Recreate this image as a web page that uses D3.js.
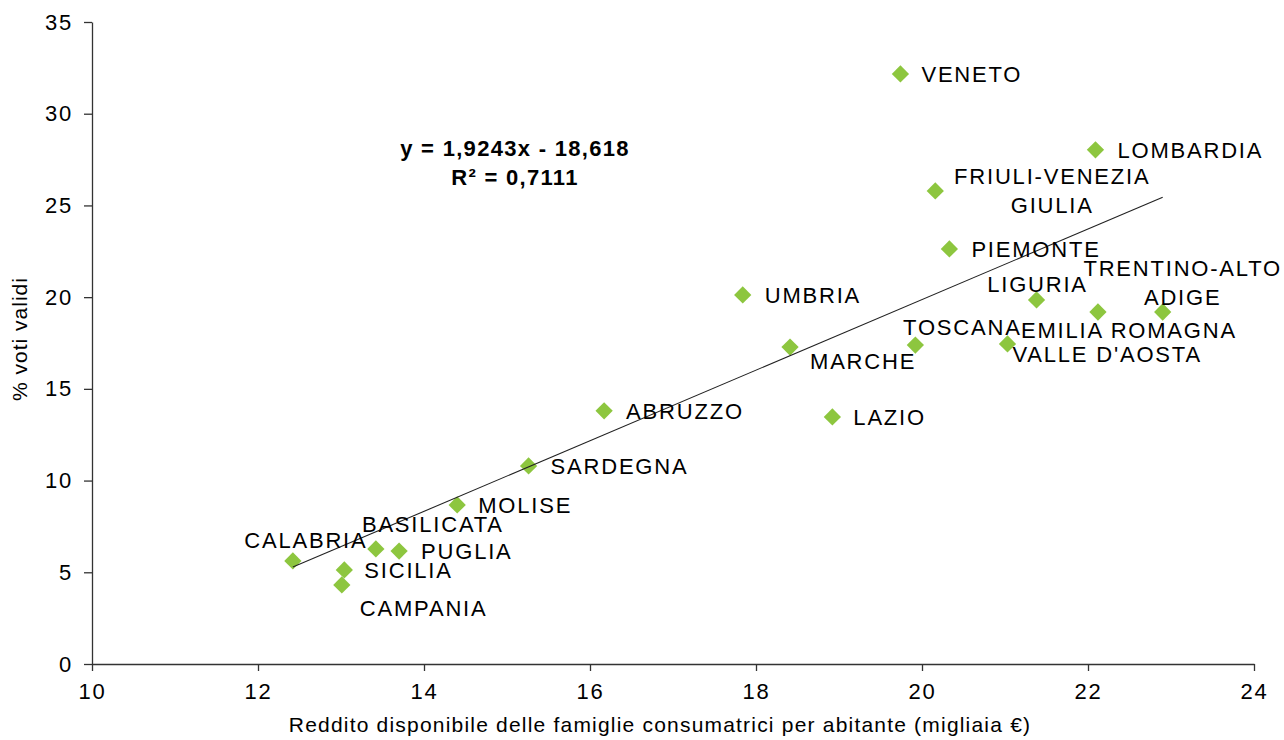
<!DOCTYPE html>
<html>
<head>
<meta charset="utf-8">
<script src="https://cdn.jsdelivr.net/npm/d3@7/dist/d3.min.js"></script>
<style>
  html, body { margin: 0; padding: 0; background: #fff; }
  svg { display: block; font-family: "Liberation Sans", Arial, sans-serif; }
</style>
</head>
<body>
<svg id="chart" width="1284" height="740"></svg>
<script>
// ---- data ----
const regions = ["VENETO","LOMBARDIA","FRIULI-VENEZIA\nGIULIA","PIEMONTE","UMBRIA","LIGURIA",
  "TRENTINO-ALTO\nADIGE","EMILIA ROMAGNA","TOSCANA","VALLE D'AOSTA","MARCHE","LAZIO","ABRUZZO",
  "SARDEGNA","MOLISE","BASILICATA","PUGLIA","CALABRIA","SICILIA","CAMPANIA"];
const income = [19.74,22.09,20.16,20.33,17.84,21.38,22.90,22.12,19.92,21.03,18.41,18.92,16.17,
  15.26,14.40,13.42,13.70,12.42,13.04,13.01];
const votes = [32.17,28.03,25.79,22.63,20.12,19.85,19.19,19.19,17.39,17.45,17.28,13.47,13.80,
  10.80,8.67,6.27,6.16,5.62,5.13,4.31];
const xTicks = [10,12,14,16,18,20,22,24];
const yTicks = [0,5,10,15,20,25,30,35];
const slope = 1.9243, intercept = -18.618, r2 = "0,7111";
const xTitle = "Reddito disponibile delle famiglie consumatrici per abitante (migliaia €)";
const yTitle = "% voti validi";

// ---- label placement (px offsets from the marker) ----
const labelPlace = [
  [21,0,"start"],[22,0,"start"],[117,0,"middle"],[22,0,"start"],[22,0,"start"],[1,-16,"middle"],
  [20,-29.5,"middle"],[31,18,"middle"],[47,-18,"middle"],[5,10,"start"],[20,14,"start"],[21,0,"start"],
  [22,0,"start"],[22,0,"start"],[21,0,"start"],[57,-25,"middle"],[22,0,"start"],[13,-21,"middle"],
  [20,0,"start"],[18,23,"start"]
];

const svg = d3.select("#chart");
const x = d3.scaleLinear().domain([10,24]).range([92,1254]);
const y = d3.scaleLinear().domain([0,35]).range([664,22]);

const axisColor = "#333";
const FS = 22, LS = 1.8;
// y axis
const gy = svg.append("g").attr("transform","translate(92,0)")
  .call(d3.axisLeft(y).tickValues(yTicks).tickSize(8).tickSizeOuter(0).tickPadding(11).tickFormat(d3.format("d")));
// x axis
const gx = svg.append("g").attr("transform","translate(0,664)")
  .call(d3.axisBottom(x).tickValues(xTicks).tickSize(7).tickSizeOuter(0).tickPadding(12).tickFormat(d3.format("d")));
[gx, gy].forEach(g => {
  g.selectAll("path, line").attr("stroke", axisColor).attr("stroke-width", 1.3);
  g.selectAll("text").attr("font-size", FS).attr("fill", "#000").attr("letter-spacing", LS)
    .attr("font-family", '"Liberation Sans", Arial, sans-serif');
});

// axis titles
svg.append("text").attr("x", 660).attr("y", 732).attr("text-anchor","middle")
  .attr("font-size", 21).attr("letter-spacing", 1.2).text(xTitle);
svg.append("text").attr("transform","translate(27,339) rotate(-90)").attr("text-anchor","middle")
  .attr("font-size", 21).attr("letter-spacing", 1).text(yTitle);

// markers
const pts = income.map((v,i) => ({x:v, y:votes[i], name:regions[i], place:labelPlace[i]}));
const diamond = d3.symbol().type(d3.symbolDiamond2).size(190);
svg.append("g").selectAll("path").data(pts).join("path")
  .attr("d", diamond)
  .attr("transform", d => `translate(${x(d.x)},${y(d.y)})`)
  .attr("fill", "#8dc63f");

// trendline
const xMin = d3.min(income), xMax = d3.max(income);
svg.append("line")
  .attr("x1", x(xMin)).attr("y1", y(slope*xMin + intercept))
  .attr("x2", x(xMax)).attr("y2", y(slope*xMax + intercept))
  .attr("stroke", "#222").attr("stroke-width", 1.1);

// labels
const lg = svg.append("g");
pts.forEach(d => {
  const lines = d.name.split("\n");
  const lh = 29;
  const cx = x(d.x) + d.place[0];
  const cy = y(d.y) + d.place[1] - (lines.length-1)*lh/2;
  const t = lg.append("text").attr("text-anchor", d.place[2]).attr("font-size", FS)
    .attr("letter-spacing", LS).attr("fill","#000");
  lines.forEach((ln, k) => {
    t.append("tspan").attr("x", cx).attr("y", cy + k*lh).attr("dy","0.36em").text(ln);
  });
});

// equation
const eq = svg.append("text").attr("text-anchor","middle").attr("font-size", 22)
  .attr("font-weight","bold").attr("letter-spacing", 1.3);
eq.append("tspan").attr("x", 515).attr("y", 148).attr("dy","0.36em")
  .text(`y = ${d3.format(".4f")(slope).replace(".", ",")}x - ${d3.format(".3f")(-intercept).replace(".", ",")}`);
eq.append("tspan").attr("x", 515).attr("y", 177).attr("dy","0.36em").text(`R² = ${r2}`);
</script>
</body>
</html>
